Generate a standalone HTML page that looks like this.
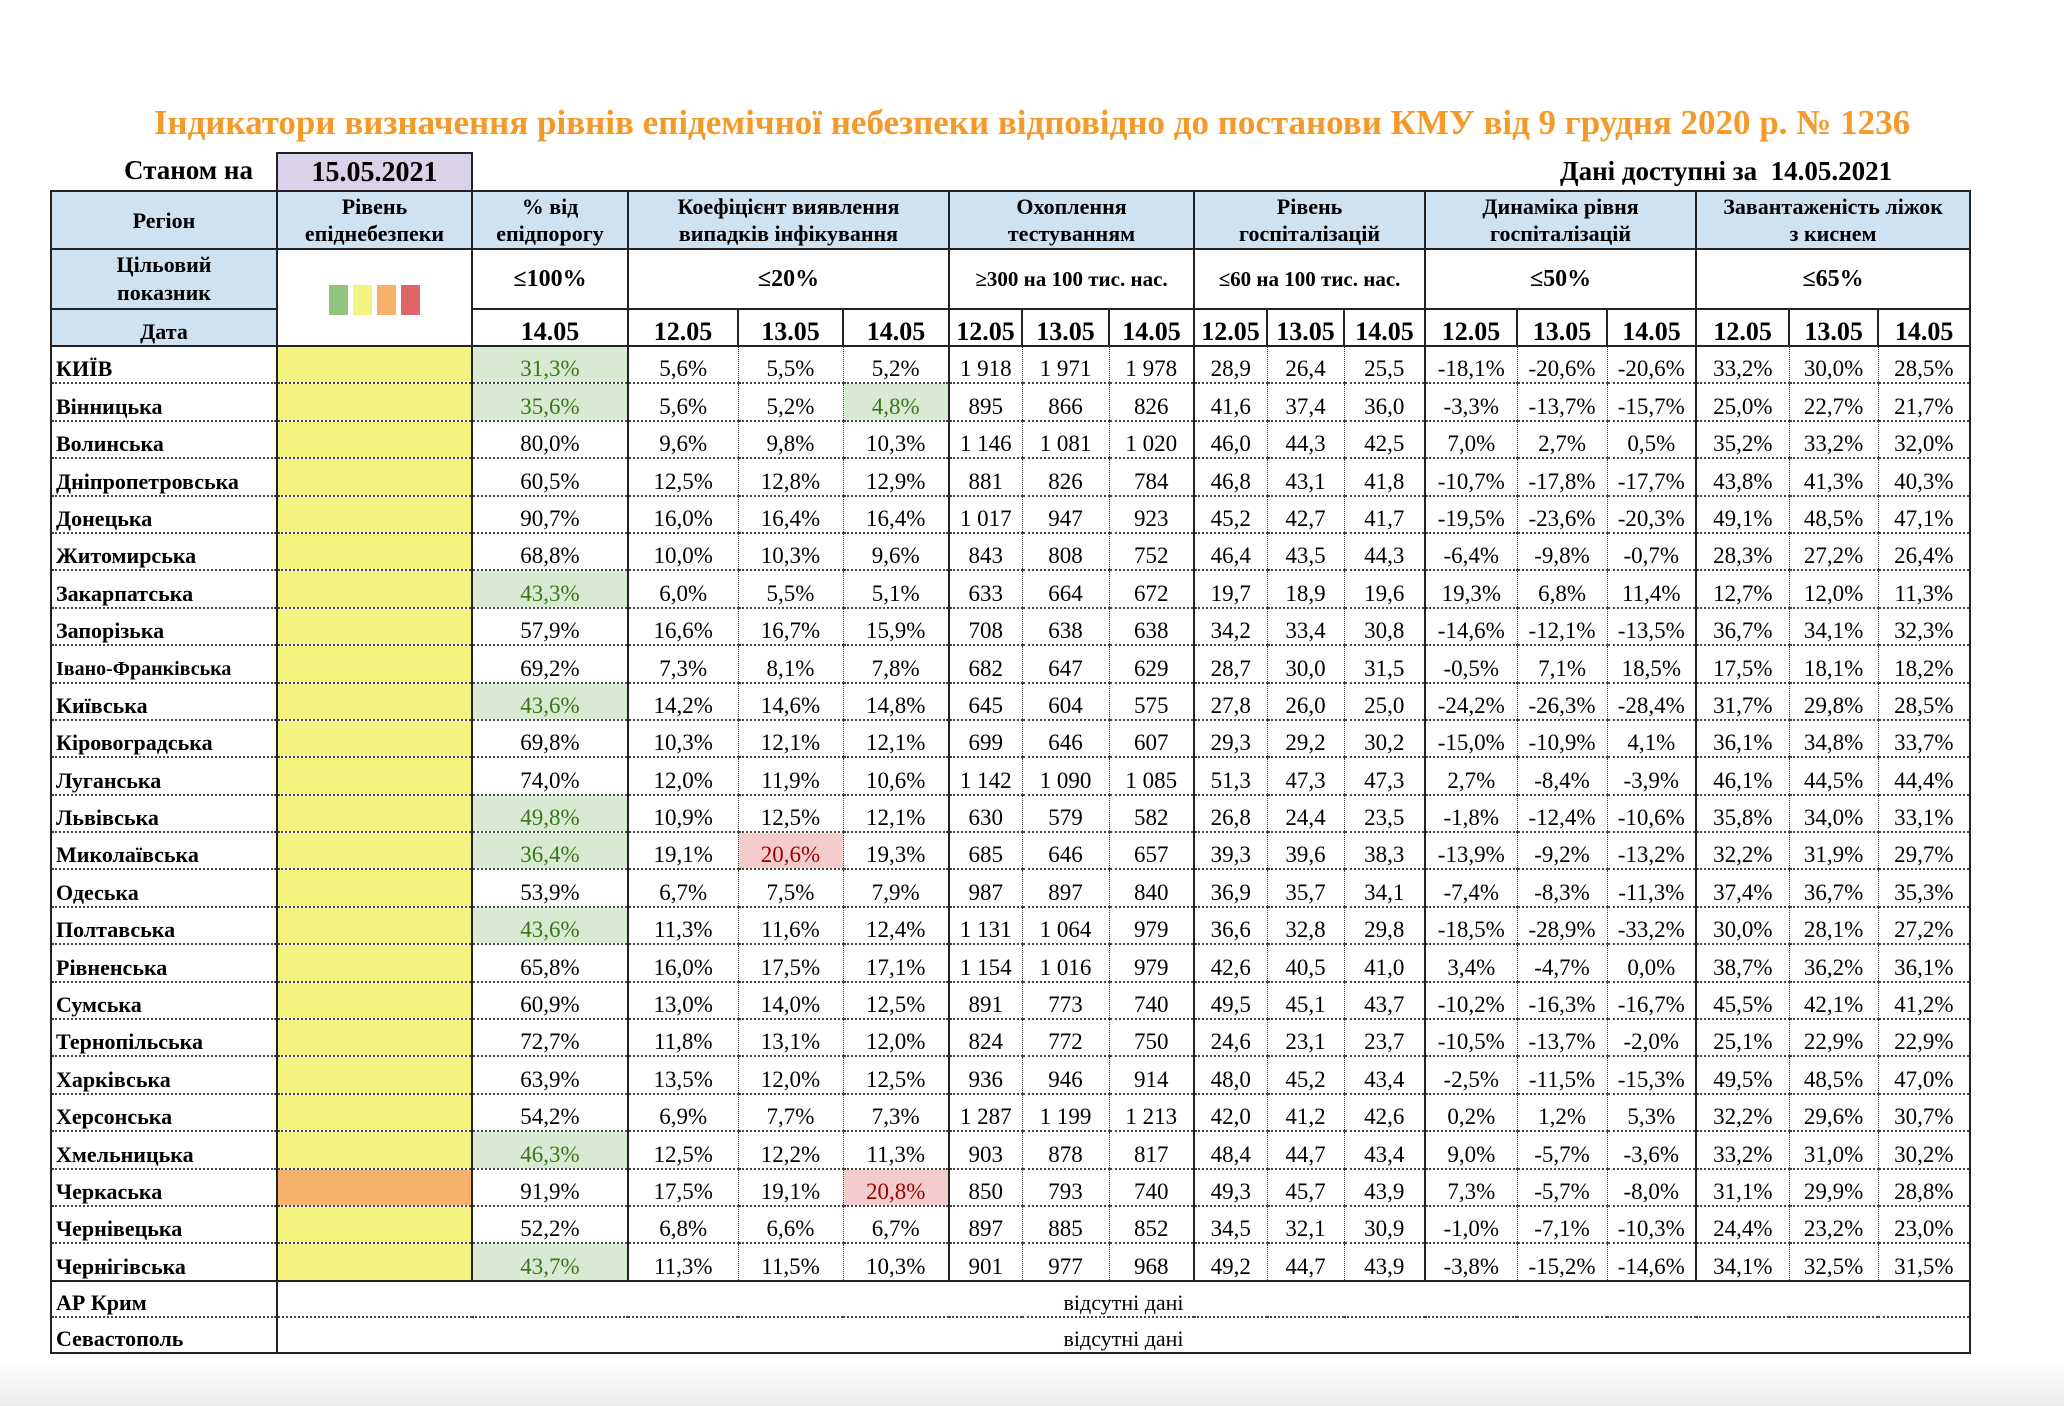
<!DOCTYPE html>
<html><head><meta charset="utf-8"><style>
body{margin:0;width:2064px;height:1406px;background:linear-gradient(#fff 0,#fff 1360px,#ececec 1406px);font-family:"Liberation Serif","Noto Serif CJK SC","DejaVu Serif",serif;position:relative;overflow:hidden;color:#000}
.t{position:absolute;left:0;width:2064px;top:103px;text-align:center;color:#F39A2B;font-weight:bold;font-size:35px;white-space:nowrap}
.s{position:absolute;left:124px;top:155px;font-weight:bold;font-size:27px}
.d{position:absolute;left:276px;top:152px;width:193px;height:37px;background:#D9D2E9;border:2px solid #222;border-bottom:none;text-align:center;font-weight:bold;font-size:28px;line-height:37px}
.r{position:absolute;left:1560px;top:156px;font-weight:bold;font-size:27px}
table{position:absolute;left:50px;top:190px;border-collapse:collapse;table-layout:fixed;width:1919px;border:2.5px solid #222}
td{padding:0;text-align:center;font-size:23px;overflow:hidden;white-space:nowrap;vertical-align:bottom;line-height:26px}
tr.h{height:58px}
tr.h td{background:#CFE2F1;font-weight:bold;font-size:22px;line-height:27px;border:2px solid #222;vertical-align:middle}
tr.tg{height:60px}
tr.tg td{font-weight:bold;font-size:24px;border:2px solid #222;vertical-align:middle}
tr.tg td.b{background:#CFE2F1;font-size:22px;line-height:28px}
tr.dt{height:37px}
tr.dt td{font-weight:bold;font-size:26px;border:2px solid #222}
tr.dt td.b{background:#CFE2F1;font-size:22px}
tr.x{height:37.4px}
tr.x td{height:35.4px;box-sizing:border-box;border-left:1.5px dotted #333;border-bottom:2px dotted #444;padding:0}
tr.x td:nth-child(1),tr.x td:nth-child(2),tr.x td:nth-child(3),tr.x td:nth-child(4),tr.x td:nth-child(7),tr.x td:nth-child(10),tr.x td:nth-child(13),tr.x td:nth-child(16){border-left:2px solid #222}
tr.x td:nth-child(1){text-align:left;font-weight:bold;font-size:22px;padding-left:4px}
tr.x td:nth-child(2){background:#F3F37F}
tr.last td{border-bottom:2.5px solid #222}
td.o{background:#F6B26B!important}
td.g{background:#D9EAD3;color:#38761D}
td.e{background:#F4CCCC;color:#990000}
tr.m{height:36px}
tr.m td{height:34px;box-sizing:border-box;border-left:2px solid #222;border-bottom:2px dotted #444;font-size:22px}
tr.m td:first-child{text-align:left;font-weight:bold;font-size:22px;padding-left:4px}
.sq{display:inline-block;width:19px;height:30px;margin:0 2.5px}
</style></head><body>
<div class="t">Індикатори визначення рівнів епідемічної небезпеки відповідно до постанови КМУ від 9 грудня 2020 р. № 1236</div>
<div class="s">Станом на</div>
<div class="d">15.05.2021</div>
<div class="r">Дані доступні за&nbsp; 14.05.2021</div>
<table>
<colgroup><col style="width:226px"><col style="width:195px"><col style="width:156px"><col style="width:110px"><col style="width:105px"><col style="width:106px"><col style="width:73px"><col style="width:87px"><col style="width:85px"><col style="width:73px"><col style="width:77px"><col style="width:81px"><col style="width:92px"><col style="width:90px"><col style="width:89px"><col style="width:93px"><col style="width:89px"><col style="width:92px"></colgroup>
<tr class="h"><td>Регіон</td><td>Рівень<br>епіднебезпеки</td><td>% від<br>епідпорогу</td><td colspan="3">Коефіцієнт виявлення<br>випадків інфікування</td><td colspan="3">Охоплення<br>тестуванням</td><td colspan="3">Рівень<br>госпіталізацій</td><td colspan="3">Динаміка рівня<br>госпіталізацій</td><td colspan="3">Завантаженість ліжок<br>з киснем</td></tr>
<tr class="tg"><td class="b">Цільовий<br>показник</td><td rowspan="2" style="vertical-align:middle;padding-top:10px"><span class="sq" style="background:#93C47D"></span><span class="sq" style="background:#F3F37F"></span><span class="sq" style="background:#F6B26B"></span><span class="sq" style="background:#E06666"></span></td><td>≤100%</td><td colspan="3">≤20%</td><td colspan="3" style="font-size:21px">≥300 на 100 тис. нас.</td><td colspan="3" style="font-size:21px">≤60 на 100 тис. нас.</td><td colspan="3">≤50%</td><td colspan="3">≤65%</td></tr>
<tr class="dt"><td class="b">Дата</td><td>14.05</td><td>12.05</td><td>13.05</td><td>14.05</td><td>12.05</td><td>13.05</td><td>14.05</td><td>12.05</td><td>13.05</td><td>14.05</td><td>12.05</td><td>13.05</td><td>14.05</td><td>12.05</td><td>13.05</td><td>14.05</td></tr>
<tr class="x"><td>КИЇВ</td><td></td><td class="g">31,3%</td><td>5,6%</td><td>5,5%</td><td>5,2%</td><td>1 918</td><td>1 971</td><td>1 978</td><td>28,9</td><td>26,4</td><td>25,5</td><td>-18,1%</td><td>-20,6%</td><td>-20,6%</td><td>33,2%</td><td>30,0%</td><td>28,5%</td></tr>
<tr class="x"><td>Вінницька</td><td></td><td class="g">35,6%</td><td>5,6%</td><td>5,2%</td><td class="g">4,8%</td><td>895</td><td>866</td><td>826</td><td>41,6</td><td>37,4</td><td>36,0</td><td>-3,3%</td><td>-13,7%</td><td>-15,7%</td><td>25,0%</td><td>22,7%</td><td>21,7%</td></tr>
<tr class="x"><td>Волинська</td><td></td><td>80,0%</td><td>9,6%</td><td>9,8%</td><td>10,3%</td><td>1 146</td><td>1 081</td><td>1 020</td><td>46,0</td><td>44,3</td><td>42,5</td><td>7,0%</td><td>2,7%</td><td>0,5%</td><td>35,2%</td><td>33,2%</td><td>32,0%</td></tr>
<tr class="x"><td>Дніпропетровська</td><td></td><td>60,5%</td><td>12,5%</td><td>12,8%</td><td>12,9%</td><td>881</td><td>826</td><td>784</td><td>46,8</td><td>43,1</td><td>41,8</td><td>-10,7%</td><td>-17,8%</td><td>-17,7%</td><td>43,8%</td><td>41,3%</td><td>40,3%</td></tr>
<tr class="x"><td>Донецька</td><td></td><td>90,7%</td><td>16,0%</td><td>16,4%</td><td>16,4%</td><td>1 017</td><td>947</td><td>923</td><td>45,2</td><td>42,7</td><td>41,7</td><td>-19,5%</td><td>-23,6%</td><td>-20,3%</td><td>49,1%</td><td>48,5%</td><td>47,1%</td></tr>
<tr class="x"><td>Житомирська</td><td></td><td>68,8%</td><td>10,0%</td><td>10,3%</td><td>9,6%</td><td>843</td><td>808</td><td>752</td><td>46,4</td><td>43,5</td><td>44,3</td><td>-6,4%</td><td>-9,8%</td><td>-0,7%</td><td>28,3%</td><td>27,2%</td><td>26,4%</td></tr>
<tr class="x"><td>Закарпатська</td><td></td><td class="g">43,3%</td><td>6,0%</td><td>5,5%</td><td>5,1%</td><td>633</td><td>664</td><td>672</td><td>19,7</td><td>18,9</td><td>19,6</td><td>19,3%</td><td>6,8%</td><td>11,4%</td><td>12,7%</td><td>12,0%</td><td>11,3%</td></tr>
<tr class="x"><td>Запорізька</td><td></td><td>57,9%</td><td>16,6%</td><td>16,7%</td><td>15,9%</td><td>708</td><td>638</td><td>638</td><td>34,2</td><td>33,4</td><td>30,8</td><td>-14,6%</td><td>-12,1%</td><td>-13,5%</td><td>36,7%</td><td>34,1%</td><td>32,3%</td></tr>
<tr class="x"><td style="font-size:20px">Івано-Франківська</td><td></td><td>69,2%</td><td>7,3%</td><td>8,1%</td><td>7,8%</td><td>682</td><td>647</td><td>629</td><td>28,7</td><td>30,0</td><td>31,5</td><td>-0,5%</td><td>7,1%</td><td>18,5%</td><td>17,5%</td><td>18,1%</td><td>18,2%</td></tr>
<tr class="x"><td>Київська</td><td></td><td class="g">43,6%</td><td>14,2%</td><td>14,6%</td><td>14,8%</td><td>645</td><td>604</td><td>575</td><td>27,8</td><td>26,0</td><td>25,0</td><td>-24,2%</td><td>-26,3%</td><td>-28,4%</td><td>31,7%</td><td>29,8%</td><td>28,5%</td></tr>
<tr class="x"><td>Кіровоградська</td><td></td><td>69,8%</td><td>10,3%</td><td>12,1%</td><td>12,1%</td><td>699</td><td>646</td><td>607</td><td>29,3</td><td>29,2</td><td>30,2</td><td>-15,0%</td><td>-10,9%</td><td>4,1%</td><td>36,1%</td><td>34,8%</td><td>33,7%</td></tr>
<tr class="x"><td>Луганська</td><td></td><td>74,0%</td><td>12,0%</td><td>11,9%</td><td>10,6%</td><td>1 142</td><td>1 090</td><td>1 085</td><td>51,3</td><td>47,3</td><td>47,3</td><td>2,7%</td><td>-8,4%</td><td>-3,9%</td><td>46,1%</td><td>44,5%</td><td>44,4%</td></tr>
<tr class="x"><td>Львівська</td><td></td><td class="g">49,8%</td><td>10,9%</td><td>12,5%</td><td>12,1%</td><td>630</td><td>579</td><td>582</td><td>26,8</td><td>24,4</td><td>23,5</td><td>-1,8%</td><td>-12,4%</td><td>-10,6%</td><td>35,8%</td><td>34,0%</td><td>33,1%</td></tr>
<tr class="x"><td>Миколаївська</td><td></td><td class="g">36,4%</td><td>19,1%</td><td class="e">20,6%</td><td>19,3%</td><td>685</td><td>646</td><td>657</td><td>39,3</td><td>39,6</td><td>38,3</td><td>-13,9%</td><td>-9,2%</td><td>-13,2%</td><td>32,2%</td><td>31,9%</td><td>29,7%</td></tr>
<tr class="x"><td>Одеська</td><td></td><td>53,9%</td><td>6,7%</td><td>7,5%</td><td>7,9%</td><td>987</td><td>897</td><td>840</td><td>36,9</td><td>35,7</td><td>34,1</td><td>-7,4%</td><td>-8,3%</td><td>-11,3%</td><td>37,4%</td><td>36,7%</td><td>35,3%</td></tr>
<tr class="x"><td>Полтавська</td><td></td><td class="g">43,6%</td><td>11,3%</td><td>11,6%</td><td>12,4%</td><td>1 131</td><td>1 064</td><td>979</td><td>36,6</td><td>32,8</td><td>29,8</td><td>-18,5%</td><td>-28,9%</td><td>-33,2%</td><td>30,0%</td><td>28,1%</td><td>27,2%</td></tr>
<tr class="x"><td>Рівненська</td><td></td><td>65,8%</td><td>16,0%</td><td>17,5%</td><td>17,1%</td><td>1 154</td><td>1 016</td><td>979</td><td>42,6</td><td>40,5</td><td>41,0</td><td>3,4%</td><td>-4,7%</td><td>0,0%</td><td>38,7%</td><td>36,2%</td><td>36,1%</td></tr>
<tr class="x"><td>Сумська</td><td></td><td>60,9%</td><td>13,0%</td><td>14,0%</td><td>12,5%</td><td>891</td><td>773</td><td>740</td><td>49,5</td><td>45,1</td><td>43,7</td><td>-10,2%</td><td>-16,3%</td><td>-16,7%</td><td>45,5%</td><td>42,1%</td><td>41,2%</td></tr>
<tr class="x"><td>Тернопільська</td><td></td><td>72,7%</td><td>11,8%</td><td>13,1%</td><td>12,0%</td><td>824</td><td>772</td><td>750</td><td>24,6</td><td>23,1</td><td>23,7</td><td>-10,5%</td><td>-13,7%</td><td>-2,0%</td><td>25,1%</td><td>22,9%</td><td>22,9%</td></tr>
<tr class="x"><td>Харківська</td><td></td><td>63,9%</td><td>13,5%</td><td>12,0%</td><td>12,5%</td><td>936</td><td>946</td><td>914</td><td>48,0</td><td>45,2</td><td>43,4</td><td>-2,5%</td><td>-11,5%</td><td>-15,3%</td><td>49,5%</td><td>48,5%</td><td>47,0%</td></tr>
<tr class="x"><td>Херсонська</td><td></td><td>54,2%</td><td>6,9%</td><td>7,7%</td><td>7,3%</td><td>1 287</td><td>1 199</td><td>1 213</td><td>42,0</td><td>41,2</td><td>42,6</td><td>0,2%</td><td>1,2%</td><td>5,3%</td><td>32,2%</td><td>29,6%</td><td>30,7%</td></tr>
<tr class="x"><td>Хмельницька</td><td></td><td class="g">46,3%</td><td>12,5%</td><td>12,2%</td><td>11,3%</td><td>903</td><td>878</td><td>817</td><td>48,4</td><td>44,7</td><td>43,4</td><td>9,0%</td><td>-5,7%</td><td>-3,6%</td><td>33,2%</td><td>31,0%</td><td>30,2%</td></tr>
<tr class="x"><td>Черкаська</td><td class="o"></td><td>91,9%</td><td>17,5%</td><td>19,1%</td><td class="e">20,8%</td><td>850</td><td>793</td><td>740</td><td>49,3</td><td>45,7</td><td>43,9</td><td>7,3%</td><td>-5,7%</td><td>-8,0%</td><td>31,1%</td><td>29,9%</td><td>28,8%</td></tr>
<tr class="x"><td>Чернівецька</td><td></td><td>52,2%</td><td>6,8%</td><td>6,6%</td><td>6,7%</td><td>897</td><td>885</td><td>852</td><td>34,5</td><td>32,1</td><td>30,9</td><td>-1,0%</td><td>-7,1%</td><td>-10,3%</td><td>24,4%</td><td>23,2%</td><td>23,0%</td></tr>
<tr class="x last"><td>Чернігівська</td><td></td><td class="g">43,7%</td><td>11,3%</td><td>11,5%</td><td>10,3%</td><td>901</td><td>977</td><td>968</td><td>49,2</td><td>44,7</td><td>43,9</td><td>-3,8%</td><td>-15,2%</td><td>-14,6%</td><td>34,1%</td><td>32,5%</td><td>31,5%</td></tr>
<tr class="m"><td>АР Крим</td><td colspan="17">відсутні дані</td></tr>
<tr class="m"><td>Севастополь</td><td colspan="17">відсутні дані</td></tr>
</table>
</body></html>
